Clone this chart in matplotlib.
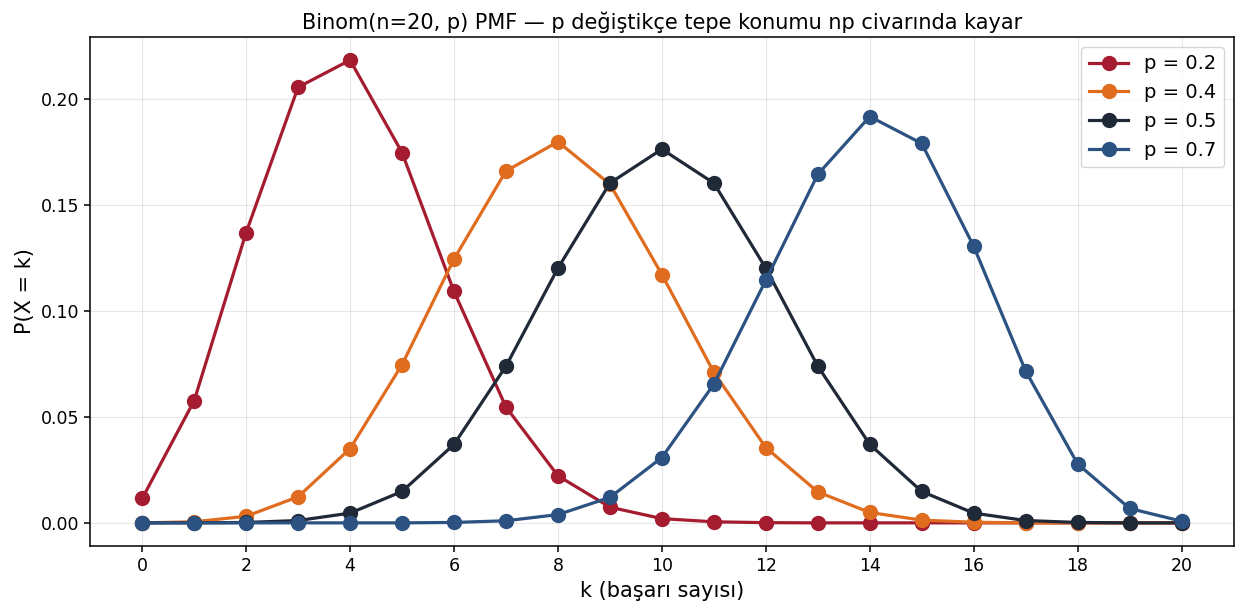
import matplotlib
matplotlib.use('Agg')
import matplotlib.pyplot as plt

k = list(range(21))

pmf_02 = [0.0115, 0.0576, 0.1369, 0.2054, 0.2182, 0.1746, 0.1091, 0.0546, 0.0222, 0.0074,
          0.0020, 0.0005, 0.0001, 0.0000, 0.0000, 0.0000, 0.0000, 0.0000, 0.0000, 0.0000, 0.0000]
pmf_04 = [0.0000, 0.0005, 0.0031, 0.0123, 0.0350, 0.0746, 0.1244, 0.1659, 0.1797, 0.1597,
          0.1171, 0.0710, 0.0355, 0.0146, 0.0049, 0.0013, 0.0003, 0.0000, 0.0000, 0.0000, 0.0000]
pmf_05 = [0.0000, 0.0000, 0.0002, 0.0011, 0.0046, 0.0148, 0.0370, 0.0739, 0.1201, 0.1602,
          0.1762, 0.1602, 0.1201, 0.0739, 0.0370, 0.0148, 0.0046, 0.0011, 0.0002, 0.0000, 0.0000]
pmf_07 = [0.0000, 0.0000, 0.0000, 0.0000, 0.0000, 0.0000, 0.0002, 0.0010, 0.0039, 0.0120,
          0.0308, 0.0654, 0.1144, 0.1643, 0.1916, 0.1789, 0.1304, 0.0716, 0.0278, 0.0068, 0.0008]

labels = ['p = 0.2', 'p = 0.4', 'p = 0.5', 'p = 0.7']
colors = ['#a51c30', '#e06c1f', '#1f2937', '#2c5282']

fig = plt.figure(figsize=(12.36, 6.06), dpi=100)
ax = fig.add_axes([0.073, 0.099, 0.925, 0.840])

for vals, lab, col in zip([pmf_02, pmf_04, pmf_05, pmf_07], labels, colors):
    ax.plot(k, vals, 'o-', color=col, label=lab, linewidth=2.3, markersize=10)

ax.set_xticks(range(0, 21, 2))
ax.set_yticks([0.0, 0.05, 0.10, 0.15, 0.20])
ax.yaxis.set_major_formatter(matplotlib.ticker.FormatStrFormatter('%.2f'))
ax.tick_params(labelsize=12.5, length=4.5, width=1.1)
for s in ax.spines.values():
    s.set_linewidth(1.1)
ax.set_xlabel('k (başarı sayısı)', fontsize=15)
ax.set_ylabel('P(X = k)', fontsize=15)
ax.set_title('Binom(n=20, p) PMF — p değiştikçe tepe konumu np civarında kayar', fontsize=15)
ax.grid(True, alpha=0.3)
ax.legend(fontsize=14, loc='upper right')

plt.savefig('out.png', dpi=100)
plt.close()
